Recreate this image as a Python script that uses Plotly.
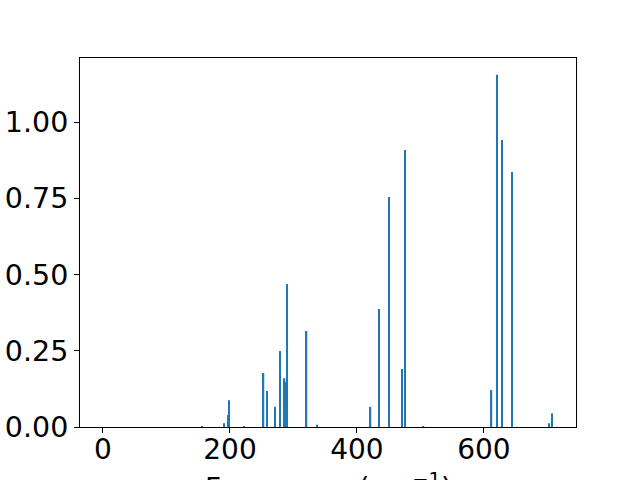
import plotly.graph_objects as go

frequencies = [156.4, 191.0, 197.4, 199.0, 222.5, 253.0, 257.8, 270.4, 279.2, 286.0,
               287.7, 289.3, 320.7, 337.5, 421.5, 434.6, 449.9, 470.9, 476.1, 505.0,
               612.0, 620.0, 628.9, 644.6, 702.8, 707.6]
intensities = [0.002, 0.012, 0.039, 0.088, 0.003, 0.177, 0.118, 0.066, 0.249, 0.160,
               0.148, 0.469, 0.315, 0.007, 0.066, 0.387, 0.754, 0.190, 0.908, 0.003,
               0.121, 1.155, 0.941, 0.836, 0.012, 0.045]

x_ticks = [0, 200, 400, 600]
y_ticks = [0.0, 0.25, 0.5, 0.75, 1.0]
y_tick_labels = ["0.00", "0.25", "0.50", "0.75", "1.00"]
x_title = "Frequency (cm<sup>−1</sup>)"

fig = go.Figure()
fig.add_trace(go.Bar(
    x=frequencies, y=intensities, width=2.0,
    marker=dict(color="#1f77b4", line=dict(width=0)),
))

font_family = "DejaVu Sans"
fig.update_layout(
    width=640, height=480,
    margin=dict(l=80, r=64, t=58, b=53),
    paper_bgcolor="white", plot_bgcolor="white",
    showlegend=False,
    font=dict(family=font_family, size=28, color="black"),
)
fig.update_xaxes(
    range=[-36.2, 745],
    tickvals=x_ticks, ticktext=[str(t) for t in x_ticks],
    showgrid=False, zeroline=False,
    showline=True, linecolor="black", linewidth=1, mirror=True,
    ticks="outside", ticklen=5, tickwidth=1, tickcolor="black",
    tickfont=dict(size=28),
    ticklabelstandoff=-8,
    automargin=False,
)
fig.update_yaxes(
    range=[0, 1.21],
    tickvals=y_ticks, ticktext=y_tick_labels,
    showgrid=False, zeroline=False,
    showline=True, linecolor="black", linewidth=1, mirror=True,
    ticks="outside", ticklen=5, tickwidth=1, tickcolor="black",
    tickfont=dict(size=28.5),
    ticklabelstandoff=0,
    automargin=False,
)
fig.add_annotation(
    text=x_title, xref="paper", yref="paper", x=0.5, y=0,
    xanchor="center", yanchor="top", yshift=-39, showarrow=False,
    font=dict(size=28, family=font_family, color="black"),
)

# remove the default 8px body margin so the figure fills the window exactly
fig.write_html(
    "out.html",
    config={"displayModeBar": False},
    post_script="document.body.style.margin='0';",
)
